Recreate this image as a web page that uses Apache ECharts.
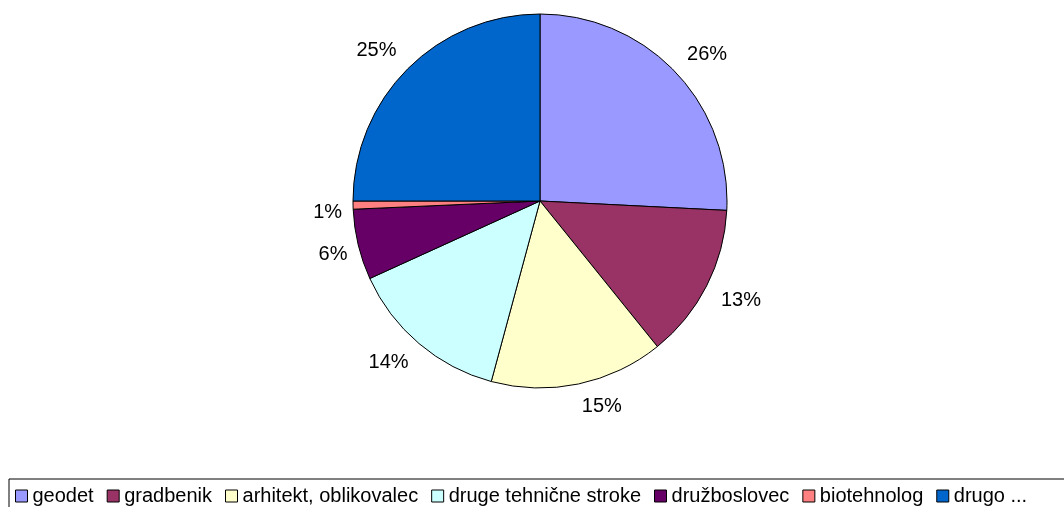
<!DOCTYPE html>
<html>
<head>
<meta charset="utf-8">
<script src="https://cdn.jsdelivr.net/npm/echarts@6/dist/echarts.min.js"></script>
<style>
  html, body { margin: 0; padding: 0; background: #ffffff; }
  #chart { width: 1064px; height: 507px; }
</style>
</head>
<body>
<div id="chart"></div>
<script>
// Share of respondents by profession
const categories = ['geodet', 'gradbenik', 'arhitekt, oblikovalec', 'druge tehnične stroke', 'družboslovec', 'biotehnolog', 'drugo ...'];
const shares = [25.8, 13.4, 15.0, 14.0, 6.1, 0.7, 25.0];
const colors = ['#9999FF', '#993366', '#FFFFCC', '#CCFFFF', '#660066', '#FF8080', '#0066CC'];

const PIE_CENTER = [540, 201];
const PIE_RADIUS = 187;
const LABEL_H = 14;       // visible height of the digits

// mid angle of every slice, clockwise from 12 o'clock
const total = shares.reduce((a, b) => a + b, 0);
const midAngles = [];
let acc = 0;
shares.forEach(v => {
  midAngles.push((acc + v / 2) / total * 2 * Math.PI);
  acc += v;
});

const chart = echarts.init(document.getElementById('chart'), null, { renderer: 'canvas' });

chart.setOption({
  backgroundColor: '#ffffff',
  animation: false,
  color: colors,
  textStyle: { fontFamily: 'Liberation Sans, Arial, sans-serif' },
  legend: {
    left: 9,
    top: 479,
    width: 1400,
    orient: 'horizontal',
    itemWidth: 12,
    itemHeight: 12,
    itemGap: 13,
    padding: [7, 60, 20, 6],
    borderColor: '#000000',
    borderWidth: 1,
    icon: 'rect',
    itemStyle: { borderColor: '#000000', borderWidth: 1 },
    textStyle: { fontSize: 20, color: '#000000' },
    data: categories
  },
  series: [{
    type: 'pie',
    center: PIE_CENTER,
    radius: PIE_RADIUS,
    startAngle: 90,
    clockwise: true,
    avoidLabelOverlap: false,
    percentPrecision: 0,
    itemStyle: { borderColor: '#000000', borderWidth: 1 },
    emphasis: { disabled: true },
    label: {
      show: true,
      position: 'outside',
      formatter: '{d}%',
      fontSize: 20,
      color: '#000000',
      fontFamily: 'Liberation Sans, Arial, sans-serif'
    },
    labelLine: { show: false, length: 10, length2: 0 },
    labelLayout: function (params) {
      const a = midAngles[params.dataIndex];
      const s = Math.sin(a), c = Math.cos(a);
      const w = params.labelRect.width;
      // wider labels sit a little further out
      const d = PIE_RADIUS - 2 + 0.45 * w;
      const px = PIE_CENTER[0] + d * s;
      const py = PIE_CENTER[1] - d * c;
      return {
        x: px + (s >= 0 ? 1 : -1) * w / 2,
        y: py - (c >= 0 ? 1 : -1) * LABEL_H / 2,
        align: 'center',
        verticalAlign: 'middle'
      };
    },
    data: categories.map((name, i) => ({ name: name, value: shares[i] }))
  }]
});
</script>
</body>
</html>
